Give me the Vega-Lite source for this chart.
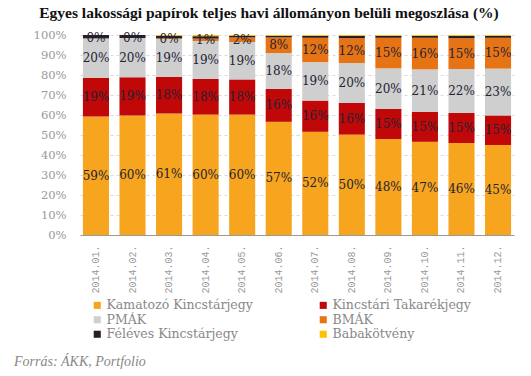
{
  "$schema": "https://vega.github.io/schema/vega-lite/v6.json",
  "padding": {"left": 14, "top": 5, "right": 5, "bottom": 5},
  "background": "white",
  "title": {"text": "Egyes lakossági papírok teljes havi állományon belüli megoszlása (%)", "font": "'Liberation Serif', 'DejaVu Serif', serif", "fontSize": 15.5, "fontWeight": "bold", "color": "#111111", "anchor": "middle", "frame": "bounds", "offset": 8, "dx": 5},
  "config": {
    "view": {"stroke": null},
    "font": "'DejaVu Serif', serif",
    "axisY": {"title": null, "format": ".0%", "labelOverlap": false, "labelFont": "'DejaVu Serif', serif", "labelFontSize": 11.5, "labelColor": "#999999", "labelPadding": 14, "ticks": false, "domain": false, "gridColor": "#d9d9d9", "gridDash": [3, 3]}
  },
  "vconcat": [
    {
      "width": 434,
      "height": 200,
      "title": {"text": "Forrás: ÁKK, Portfolio", "orient": "bottom", "anchor": "start", "frame": "group", "dx": -66, "fontStyle": "italic", "fontWeight": "normal", "fontSize": 14, "color": "#888888", "font": "'Liberation Serif', 'DejaVu Serif', serif", "offset": 62},
      "data": {"values": [
        {"month": "2014.01.", "Kamatozó Kincstárjegy": 0.592, "Kincstári Takarékjegy": 0.193, "PMÁK": 0.198, "BMÁK": 0.0, "Féléves Kincstárjegy": 0.017, "Babakötvény": 0.0},
        {"month": "2014.02.", "Kamatozó Kincstárjegy": 0.597, "Kincstári Takarékjegy": 0.192, "PMÁK": 0.196, "BMÁK": 0.0, "Féléves Kincstárjegy": 0.015, "Babakötvény": 0.0},
        {"month": "2014.03.", "Kamatozó Kincstárjegy": 0.608, "Kincstári Takarékjegy": 0.182, "PMÁK": 0.190, "BMÁK": 0.004, "Féléves Kincstárjegy": 0.012, "Babakötvény": 0.004},
        {"month": "2014.04.", "Kamatozó Kincstárjegy": 0.602, "Kincstári Takarékjegy": 0.178, "PMÁK": 0.190, "BMÁK": 0.012, "Féléves Kincstárjegy": 0.012, "Babakötvény": 0.006},
        {"month": "2014.05.", "Kamatozó Kincstárjegy": 0.602, "Kincstári Takarékjegy": 0.176, "PMÁK": 0.187, "BMÁK": 0.023, "Féléves Kincstárjegy": 0.008, "Babakötvény": 0.004},
        {"month": "2014.06.", "Kamatozó Kincstárjegy": 0.566, "Kincstári Takarékjegy": 0.164, "PMÁK": 0.180, "BMÁK": 0.078, "Féléves Kincstárjegy": 0.008, "Babakötvény": 0.004},
        {"month": "2014.07.", "Kamatozó Kincstárjegy": 0.516, "Kincstári Takarékjegy": 0.156, "PMÁK": 0.192, "BMÁK": 0.122, "Féléves Kincstárjegy": 0.010, "Babakötvény": 0.004},
        {"month": "2014.08.", "Kamatozó Kincstárjegy": 0.502, "Kincstári Takarékjegy": 0.158, "PMÁK": 0.200, "BMÁK": 0.124, "Féléves Kincstárjegy": 0.012, "Babakötvény": 0.004},
        {"month": "2014.09.", "Kamatozó Kincstárjegy": 0.480, "Kincstári Takarékjegy": 0.150, "PMÁK": 0.203, "BMÁK": 0.153, "Féléves Kincstárjegy": 0.010, "Babakötvény": 0.004},
        {"month": "2014.10.", "Kamatozó Kincstárjegy": 0.466, "Kincstári Takarékjegy": 0.149, "PMÁK": 0.213, "BMÁK": 0.158, "Féléves Kincstárjegy": 0.010, "Babakötvény": 0.004},
        {"month": "2014.11.", "Kamatozó Kincstárjegy": 0.460, "Kincstári Takarékjegy": 0.150, "PMÁK": 0.220, "BMÁK": 0.154, "Féléves Kincstárjegy": 0.012, "Babakötvény": 0.004},
        {"month": "2014.12.", "Kamatozó Kincstárjegy": 0.450, "Kincstári Takarékjegy": 0.148, "PMÁK": 0.234, "BMÁK": 0.154, "Féléves Kincstárjegy": 0.010, "Babakötvény": 0.004}
      ]},
      "transform": [
        {"fold": ["Kamatozó Kincstárjegy", "Kincstári Takarékjegy", "PMÁK", "BMÁK", "Féléves Kincstárjegy", "Babakötvény"], "as": ["series", "value"]},
        {"calculate": "indexof(['Kamatozó Kincstárjegy', 'Kincstári Takarékjegy', 'PMÁK', 'BMÁK', 'Féléves Kincstárjegy', 'Babakötvény'], datum.series)", "as": "ord"},
        {"stack": "value", "groupby": ["month"], "sort": [{"field": "ord", "order": "ascending"}], "as": ["v0", "v1"]},
        {"calculate": "(datum.v0 + datum.v1) / 2", "as": "vmid"}
      ],
      "encoding": {
        "x": {"field": "month", "type": "ordinal", "scale": {"paddingInner": 0.287, "paddingOuter": 0.08},
          "axis": {"title": null, "labelAngle": 270, "labelFont": "'Liberation Mono', 'DejaVu Sans Mono', monospace", "labelFontSize": 10, "labelColor": "#999999", "ticks": false, "domainColor": "#999999", "labelPadding": 10, "grid": false}}
      },
      "layer": [
        {
          "mark": {"type": "bar"},
          "encoding": {
            "y": {"field": "v1", "type": "quantitative", "scale": {"domain": [0, 1], "nice": false},
              "axis": {"values": [0, 0.1, 0.2, 0.3, 0.4, 0.5, 0.6, 0.7, 0.8, 0.9, 1.0]}},
            "y2": {"field": "v0"},
            "color": {"field": "series", "type": "nominal",
              "scale": {"domain": ["Kamatozó Kincstárjegy", "PMÁK", "Féléves Kincstárjegy", "Kincstári Takarékjegy", "BMÁK", "Babakötvény"], "range": ["#F7A51E", "#CFCFCF", "#2B1D25", "#C00808", "#E77414", "#FFC000"]},
              "legend": {"title": null, "orient": "none", "legendX": 11, "legendY": 264, "columns": 2, "columnPadding": 64, "rowPadding": 1.5, "symbolType": "square", "symbolSize": 50, "symbolStrokeWidth": 0, "labelFont": "'DejaVu Serif', serif", "labelFontSize": 12.5, "labelColor": "#888888", "labelOffset": 3}}
          }
        },
        {
          "transform": [{"filter": {"field": "ord", "lte": 3}}],
          "mark": {"type": "text", "font": "'DejaVu Serif', serif", "fontSize": 12, "color": "#222233"},
          "encoding": {
            "y": {"field": "vmid", "type": "quantitative", "axis": {"values": [0, 0.1, 0.2, 0.3, 0.4, 0.5, 0.6, 0.7, 0.8, 0.9, 1.0]}},
            "text": {"field": "value", "type": "quantitative", "format": ".0%"}
          }
        }
      ]
    }
  ]
}
